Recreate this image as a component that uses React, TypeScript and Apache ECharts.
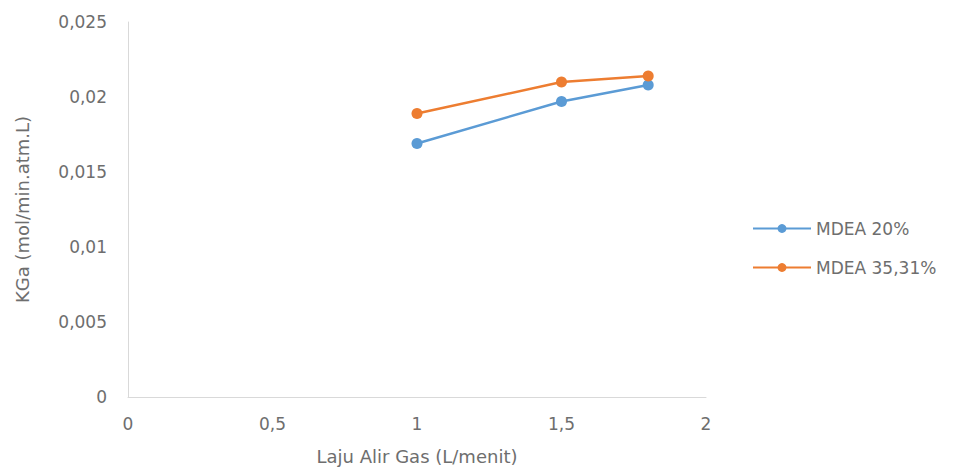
import React, { useEffect, useRef } from "react";
import * as echarts from "echarts";

const flowRates = [1, 1.5, 1.8];
const mdea20 = [0.0169, 0.0197, 0.0208];
const mdea3531 = [0.0189, 0.021, 0.0214];
const seriesNames = ["MDEA 20%", "MDEA 35,31%"];
const seriesColors = ["#5B9BD5", "#ED7D31"];

const fmt = (v: number) => String(v).replace(".", ",");

export default function App() {
  const ref = useRef<HTMLDivElement>(null);

  useEffect(() => {
    if (!ref.current) return;
    const chart = echarts.init(ref.current, null, { renderer: "svg" });
    const font = "'DejaVu Sans', Arial, sans-serif";
    const textColor = "#6e6e6e";
    const makeSeries = (name: string, values: number[], color: string) => ({
      name,
      type: "line",
      data: flowRates.map((x, i) => [x, values[i]]),
      symbol: "circle",
      symbolSize: 11,
      lineStyle: { color, width: 2.5 },
      itemStyle: { color },
    });
    chart.setOption({
      animation: false,
      backgroundColor: "#ffffff",
      textStyle: { fontFamily: font },
      grid: {
        left: 128,
        right: 255,
        top: 22,
        bottom: 73,
        outerBoundsMode: "none",
      },
      legend: {
        orient: "vertical",
        left: 747,
        top: 215,
        itemWidth: 58,
        itemHeight: 11,
        itemGap: 22,
        textStyle: { color: textColor, fontSize: 17, fontFamily: font },
        data: seriesNames,
      },
      xAxis: {
        type: "value",
        min: 0,
        max: 2,
        interval: 0.5,
        name: "Laju Alir Gas (L/menit)",
        nameLocation: "middle",
        nameGap: 50,
        nameTextStyle: { color: textColor, fontSize: 18, fontFamily: font },
        axisLine: { lineStyle: { color: "#d9d9d9" } },
        axisTick: { show: false },
        splitLine: { show: false },
        axisLabel: {
          color: textColor,
          fontSize: 17,
          margin: 18,
          formatter: (v: number) => fmt(v),
        },
      },
      yAxis: {
        type: "value",
        min: 0,
        max: 0.025,
        interval: 0.005,
        name: "KGa (mol/min.atm.L)",
        nameLocation: "middle",
        nameGap: 97,
        nameTextStyle: { color: textColor, fontSize: 18, fontFamily: font },
        axisLine: { show: true, lineStyle: { color: "#d9d9d9" } },
        axisTick: { show: false },
        splitLine: { show: false },
        axisLabel: {
          color: textColor,
          fontSize: 17,
          margin: 21,
          formatter: (v: number) => fmt(Number(v.toFixed(3))),
        },
      },
      series: [
        makeSeries(seriesNames[0], mdea20, seriesColors[0]),
        makeSeries(seriesNames[1], mdea3531, seriesColors[1]),
      ],
    });
    return () => chart.dispose();
  }, []);

  return (
    <div
      ref={ref}
      style={{ position: "fixed", left: 0, top: 0, width: 961, height: 470 }}
    />
  );
}
